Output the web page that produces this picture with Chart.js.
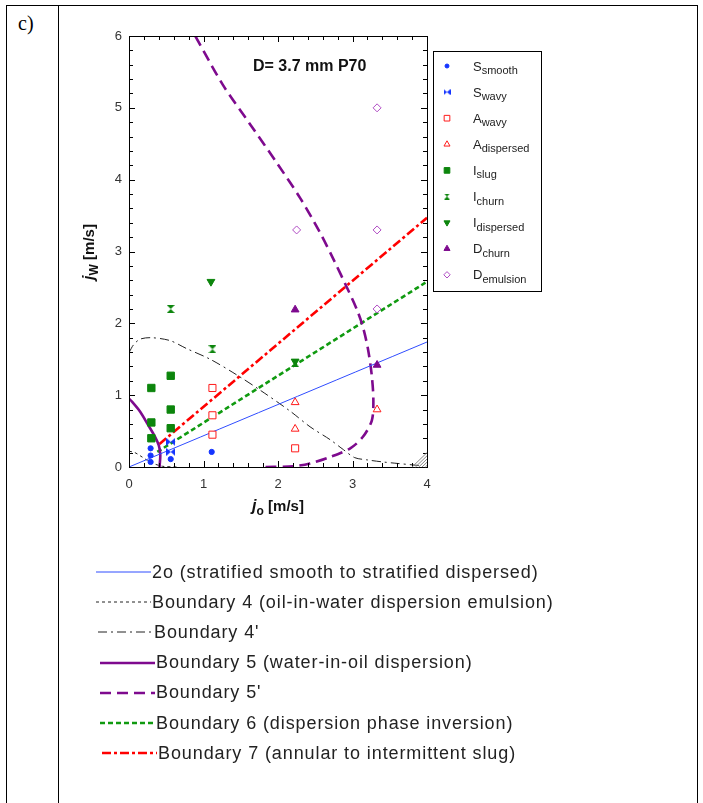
<!DOCTYPE html>
<html>
<head>
<meta charset="utf-8">
<script src="https://cdn.jsdelivr.net/npm/chart.js@4.4.0/dist/chart.umd.min.js"></script>
<style>
  body { margin: 0; background: #fff; width: 703px; height: 803px; overflow: hidden; position: relative; font-family: "Liberation Sans", Arial, sans-serif; }
  #chart { position: absolute; left: 0; top: 0; }
  .vl { position: absolute; top: 5px; bottom: 0; width: 1px; background: #000; }
  .hl { position: absolute; left: 6px; width: 692px; top: 5px; height: 1px; background: #000; }
  #tag { position: absolute; left: 18px; top: 12px; font-family: "Liberation Serif", "Times New Roman", serif; font-size: 20px; }
  #lines { position: absolute; left: 96px; top: 557px; color: #222; font-size: 18px; letter-spacing: 0.9px; }
  .row { height: 30.2px; display: flex; align-items: center; white-space: nowrap; }
  .row svg { margin-right: 1px; }
</style>
</head>
<body>
<div class="hl"></div>
<div class="vl" style="left:6px"></div>
<div class="vl" style="left:58px"></div>
<div class="vl" style="left:697px"></div>
<div id="tag">c)</div>
<canvas id="chart" width="703" height="803"></canvas>
<div id="lines"></div>

<script>
// measured points [jo, jw] in m/s
const sSmooth = [[0.29, 0.26], [0.29, 0.16], [0.29, 0.07], [0.56, 0.11], [1.11, 0.21]];
const sWavy = [[0.56, 0.35], [0.56, 0.21]];
const aWavy = [[1.12, 1.10], [1.12, 0.72], [1.12, 0.45], [2.23, 0.26]];
const aDispersed = [[2.23, 0.90], [2.23, 0.53], [3.33, 0.80]];
const iSlug = [[0.30, 1.10], [0.30, 0.62], [0.30, 0.40], [0.56, 1.27], [0.56, 0.80], [0.56, 0.54]];
const iChurn = [[0.56, 2.20], [1.12, 1.64], [2.23, 1.45]];
const iDispersed = [[1.10, 2.58], [2.23, 1.47]];
const dChurn = [[2.23, 2.19], [3.33, 1.42]];
const dEmulsion = [[3.33, 5.00], [3.33, 3.30], [2.25, 3.30], [3.33, 2.20]];

// boundaries
const line2o = [[0, 0], [4, 1.74]];
const boundary4 = [[0, 0.22], [0.08, 0.20], [0.16, 0.15], [0.25, 0.09], [0.35, 0.04], [0.45, 0.01], [0.65, 0]];
const boundary4p = [[0, 1.59], [0.06, 1.70], [0.15, 1.78], [0.30, 1.80], [0.55, 1.76], [0.77, 1.65], [1.09, 1.50],
  [1.45, 1.28], [1.76, 1.07], [2.16, 0.78], [2.43, 0.56], [2.70, 0.38], [2.88, 0.24], [3.03, 0.13], [3.19, 0.10],
  [3.41, 0.07], [3.60, 0.05], [3.80, 0.03], [3.9, 0.02]];
const boundary5 = [[0, 0.95], [0.04, 0.91], [0.15, 0.77], [0.26, 0.58], [0.35, 0.42], [0.40, 0.30], [0.42, 0.17], [0.41, 0]];
const boundary5p = [[0.89, 6.0], [1.26, 5.32], [1.62, 4.78], [1.98, 4.24], [2.30, 3.74], [2.56, 3.27], [2.75, 2.88],
  [2.92, 2.51], [3.06, 2.19], [3.14, 1.95], [3.21, 1.63], [3.26, 1.26], [3.28, 0.93], [3.26, 0.65], [3.14, 0.42],
  [2.97, 0.26], [2.70, 0.14], [2.43, 0.05], [2.21, 0.01], [1.83, 0]];
const boundary6 = [[0.38, 0.21], [4, 2.58]];
const boundary7 = [[0.41, 0.32], [4, 3.47]];

const xTicks = [0, 1, 2, 3, 4];
const yTicks = [0, 1, 2, 3, 4, 5, 6];

const markerNames = [['S', 'smooth'], ['S', 'wavy'], ['A', 'wavy'], ['A', 'dispersed'], ['I', 'slug'],
  ['I', 'churn'], ['I', 'dispersed'], ['D', 'churn'], ['D', 'emulsion']];
const lineNames = ['2o (stratified smooth to stratified dispersed)', 'Boundary 4 (oil-in-water dispersion emulsion)',
  "Boundary 4'", 'Boundary 5 (water-in-oil dispersion)', "Boundary 5'", 'Boundary 6 (dispersion phase inversion)',
  'Boundary 7 (annular to intermittent slug)'];

const BLUE = '#1434ff', RED = '#ff1a1a', GREEN = '#0c850c', PURPLE = '#7e0a8e', LILAC = '#b04cc4', BLACK = '#222';

function bowtie(color, w, h) {
  const c = document.createElement('canvas'); c.width = w; c.height = h;
  const g = c.getContext('2d'); g.fillStyle = color; g.beginPath();
  g.moveTo(0, 0); g.lineTo(w / 2, h / 2); g.lineTo(0, h); g.closePath();
  g.moveTo(w, 0); g.lineTo(w / 2, h / 2); g.lineTo(w, h); g.closePath();
  g.fill(); return c;
}
function hourglass(color, w, h) {
  const c = document.createElement('canvas'); c.width = w; c.height = h;
  const g = c.getContext('2d'); g.fillStyle = color; g.beginPath();
  g.moveTo(0, 0); g.lineTo(w, 0); g.lineTo(w / 2, h / 2); g.closePath();
  g.moveTo(0, h); g.lineTo(w, h); g.lineTo(w / 2, h / 2); g.closePath();
  g.fill(); return c;
}

const xy = arr => arr.map(p => ({x: p[0], y: p[1]}));

const markers = [
  {data: sSmooth, pointStyle: 'circle', radius: 2.6, bg: BLUE, border: BLUE, lg: {radius: 2}},
  {data: sWavy, pointStyle: bowtie(BLUE, 9, 8), radius: 4, bg: BLUE, border: BLUE, lg: {pointStyle: bowtie(BLUE, 7, 6)}},
  {data: aWavy, pointStyle: 'rect', radius: 5, bg: '#fff', border: RED, lg: {radius: 4}},
  {data: aDispersed, pointStyle: 'triangle', radius: 4.5, bg: '#fff', border: RED, lg: {radius: 3.5}},
  {data: iSlug, pointStyle: 'rect', radius: 5.2, bg: GREEN, border: GREEN, lg: {radius: 4}},
  {data: iChurn, pointStyle: hourglass(GREEN, 8, 8), radius: 4, bg: GREEN, border: GREEN, lg: {pointStyle: hourglass(GREEN, 6, 6)}},
  {data: iDispersed, pointStyle: 'triangle', rotation: 180, radius: 4.5, bg: GREEN, border: GREEN, lg: {radius: 3.5}},
  {data: dChurn, pointStyle: 'triangle', radius: 4.5, bg: PURPLE, border: PURPLE, lg: {radius: 3.5}},
  {data: dEmulsion, pointStyle: 'rectRot', radius: 4, bg: '#fff', border: LILAC, lg: {radius: 3.2}}
];

const lineStyles = [
  {data: line2o, color: '#2f4cff', width: 1, dash: []},
  {data: boundary4, color: BLACK, width: 1, dash: [3, 3]},
  {data: boundary4p, color: BLACK, width: 1, dash: [9, 4, 2, 4]},
  {data: boundary5, color: PURPLE, width: 2.6, dash: []},
  {data: boundary5p, color: PURPLE, width: 2.6, dash: [11, 6]},
  {data: boundary6, color: '#109a10', width: 2.6, dash: [5, 3]},
  {data: boundary7, color: '#ff0000', width: 2.6, dash: [9, 3, 3, 3]}
];

const datasets = [];
markers.forEach(m => datasets.push({
  data: xy(m.data), pointStyle: m.pointStyle, pointRadius: m.radius, pointRotation: m.rotation || 0,
  backgroundColor: m.bg, borderColor: m.border, pointBorderWidth: 1, showLine: false
}));
lineStyles.forEach(l => datasets.push({
  data: xy(l.data), showLine: true, pointRadius: 0, borderColor: l.color, borderWidth: l.width,
  borderDash: l.dash, tension: 0.3, fill: false
}));

// frame, inward ticks, hatch, labels and the inner legend
const decor = {
  id: 'decor',
  afterDraw(chart) {
    const {ctx, chartArea: a, scales: {x, y}} = chart;
    ctx.save();
    ctx.strokeStyle = '#000'; ctx.lineWidth = 1; ctx.setLineDash([]);
    ctx.strokeRect(Math.round(a.left) + 0.5, Math.round(a.top) + 0.5, Math.round(a.right - a.left), Math.round(a.bottom - a.top));
    ctx.beginPath();
    for (let i = 0; i <= 20; i++) {
      const px = Math.round(x.getPixelForValue(i * 0.2)) + 0.5, len = i % 5 === 0 ? 6 : 4;
      ctx.moveTo(px, a.bottom); ctx.lineTo(px, a.bottom - len);
      ctx.moveTo(px, a.top); ctx.lineTo(px, a.top + len);
    }
    for (let i = 0; i <= 30; i++) {
      const py = Math.round(y.getPixelForValue(i * 0.2)) + 0.5, len = i % 5 === 0 ? 6 : 4;
      ctx.moveTo(a.left, py); ctx.lineTo(a.left + len, py);
      ctx.moveTo(a.right, py); ctx.lineTo(a.right - len, py);
    }
    ctx.stroke();

    // hatched corner
    const hx0 = x.getPixelForValue(3.8), hx1 = x.getPixelForValue(4), hy0 = y.getPixelForValue(0), hy1 = y.getPixelForValue(0.2);
    ctx.strokeStyle = '#888'; ctx.beginPath();
    for (let k = 0; k <= 4; k++) {
      const t = k / 4.5;
      const sx = hx0 + (hx1 - hx0) * t, ey = hy1 + (hy0 - hy1) * t;
      ctx.moveTo(sx, hy0); ctx.lineTo(hx1, ey);
    }
    ctx.stroke();

    // annotation
    ctx.fillStyle = '#111'; ctx.font = 'bold 16px "Liberation Sans", Arial';
    ctx.textBaseline = 'middle'; ctx.textAlign = 'left';
    ctx.fillText('D= 3.7 mm P70', 253, 67);

    // axis titles
    const title = (main, sub, rest) => {
      ctx.font = 'bold italic 16px "Liberation Sans", Arial';
      const w1 = ctx.measureText(main).width;
      ctx.font = 'bold 12px "Liberation Sans", Arial';
      const w2 = ctx.measureText(sub).width;
      ctx.font = 'bold 15px "Liberation Sans", Arial';
      const w3 = ctx.measureText(rest).width;
      let cx = -(w1 + w2 + w3) / 2;
      ctx.font = 'bold italic 16px "Liberation Sans", Arial'; ctx.fillText(main, cx, 0); cx += w1;
      ctx.font = 'bold 12px "Liberation Sans", Arial'; ctx.fillText(sub, cx, 5); cx += w2;
      ctx.font = 'bold 15px "Liberation Sans", Arial'; ctx.fillText(rest, cx, 0);
    };
    ctx.fillStyle = '#111';
    ctx.save(); ctx.translate((a.left + a.right) / 2, 507); title('j', 'o', ' [m/s]'); ctx.restore();
    ctx.save(); ctx.translate(90, 252); ctx.rotate(-Math.PI / 2); title('j', 'W', ' [m/s]'); ctx.restore();

    // inner legend
    ctx.strokeStyle = '#000'; ctx.lineWidth = 1;
    ctx.strokeRect(433.5, 51.5, 108, 240);
    markers.forEach((m, i) => {
      const ly = 66 + i * 26.1;
      ctx.fillStyle = m.bg; ctx.strokeStyle = m.border; ctx.lineWidth = 1;
      Chart.helpers.drawPoint(ctx, {
        pointStyle: m.lg.pointStyle || m.pointStyle, radius: m.lg.radius || 3,
        rotation: m.rotation || 0, borderWidth: 1
      }, 447, ly);
      ctx.fillStyle = '#222';
      ctx.font = '13px "Liberation Sans", Arial';
      ctx.fillText(markerNames[i][0], 473, ly + 1);
      const w = ctx.measureText(markerNames[i][0]).width;
      ctx.font = '11px "Liberation Sans", Arial';
      ctx.fillText(markerNames[i][1], 473 + w, ly + 5);
    });
    ctx.restore();
  }
};

new Chart(document.getElementById('chart').getContext('2d'), {
  type: 'scatter',
  data: {datasets: datasets},
  options: {
    responsive: false,
    animation: false,
    layout: {padding: {left: 69, right: 276, top: 36, bottom: 296}},
    plugins: {legend: {display: false}, tooltip: {enabled: false}},
    scales: {
      x: {
        type: 'linear', min: 0, max: 4,
        afterBuildTicks: s => { s.ticks = xTicks.map(v => ({value: v})); },
        afterFit: s => { s.height = 40; },
        ticks: {padding: 10, color: '#333', font: {size: 13, family: '"Liberation Sans", Arial'}},
        grid: {display: false, drawTicks: false}, border: {display: false}
      },
      y: {
        type: 'linear', min: 0, max: 6,
        afterBuildTicks: s => { s.ticks = yTicks.map(v => ({value: v})); },
        afterFit: s => { s.width = 60; },
        ticks: {padding: 7, color: '#333', font: {size: 13, family: '"Liberation Sans", Arial'}},
        grid: {display: false, drawTicks: false}, border: {display: false}
      }
    }
  },
  plugins: [decor]
});

// lower legend with line samples
const box = document.getElementById('lines');
lineStyles.forEach((l, i) => {
  const row = document.createElement('div'); row.className = 'row';
  row.style.marginLeft = [0, 0, 2, 4, 4, 4, 6][i] + 'px';
  const svgNS = 'http://www.w3.org/2000/svg';
  const svg = document.createElementNS(svgNS, 'svg');
  svg.setAttribute('width', '55'); svg.setAttribute('height', '10');
  const ln = document.createElementNS(svgNS, 'line');
  ln.setAttribute('x1', '0'); ln.setAttribute('x2', '55'); ln.setAttribute('y1', '5'); ln.setAttribute('y2', '5');
  ln.setAttribute('stroke', l.color); ln.setAttribute('stroke-width', String(l.width));
  if (l.dash.length) ln.setAttribute('stroke-dasharray', l.dash.join(' '));
  svg.appendChild(ln); row.appendChild(svg);
  const span = document.createElement('span'); span.textContent = lineNames[i];
  row.appendChild(span); box.appendChild(row);
});
</script>
</body>
</html>
